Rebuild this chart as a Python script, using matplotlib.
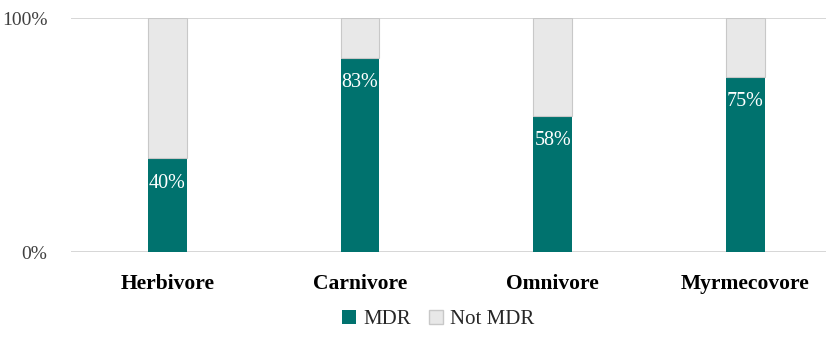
import matplotlib.pyplot as plt
from matplotlib.patches import Patch

# Share of MDR isolates per feeding guild
guilds = ["Herbivore", "Carnivore", "Omnivore", "Myrmecovore"]
mdr = [40, 83, 58, 75]
not_mdr = [100 - v for v in mdr]

teal = "#00726E"
grey = "#E8E8E8"
serif = ["Liberation Serif", "DejaVu Serif"]

plt.rcParams["font.family"] = serif

fig = plt.figure(figsize=(8.27, 3.53), dpi=100)
ax = fig.add_axes([0.086, 0.286, 0.913, 0.663])

x = range(len(guilds))
ax.bar(x, mdr, width=0.2, color=teal, zorder=3)
ax.bar(x, not_mdr, width=0.2, bottom=mdr, color=grey,
       edgecolor="#C8C8C8", linewidth=0.8, zorder=3)

# value labels just inside the top of each MDR segment
for i, v in enumerate(mdr):
    ax.text(i, v - 10.5, f"{v}%", ha="center", va="center",
            color="white", fontsize=14.5, family=serif)

ax.set_xlim(-0.5, 3.42)
ax.set_ylim(0, 100)
ax.set_yticks([0, 100])
ax.set_yticklabels(["0%", "100%"], fontsize=14, color="#404040", family=serif)
ax.set_xticks(list(x))
ax.set_xticklabels(guilds, fontsize=15.5, fontweight="bold", family=serif)
ax.tick_params(axis="x", length=0, pad=16)
ax.tick_params(axis="y", length=0, pad=17)

for side in ["top", "right", "left", "bottom"]:
    ax.spines[side].set_visible(False)
for y in (0, 100):
    ax.axhline(y, color="#D0D0D0", linewidth=1.2, zorder=1)

handles = [Patch(facecolor=teal, label="MDR"),
           Patch(facecolor=grey, edgecolor="#C8C8C8", label="Not MDR")]
leg = fig.legend(handles=handles, loc="center", bbox_to_anchor=(0.53, 0.095),
                 ncol=2, frameon=False, fontsize=15,
                 handlelength=0.65, handleheight=0.65, handletextpad=0.35,
                 columnspacing=0.9)
for t in leg.get_texts():
    t.set_fontfamily("Liberation Serif")
    t.set_color("#262626")

fig.savefig("out.png", dpi=100)
